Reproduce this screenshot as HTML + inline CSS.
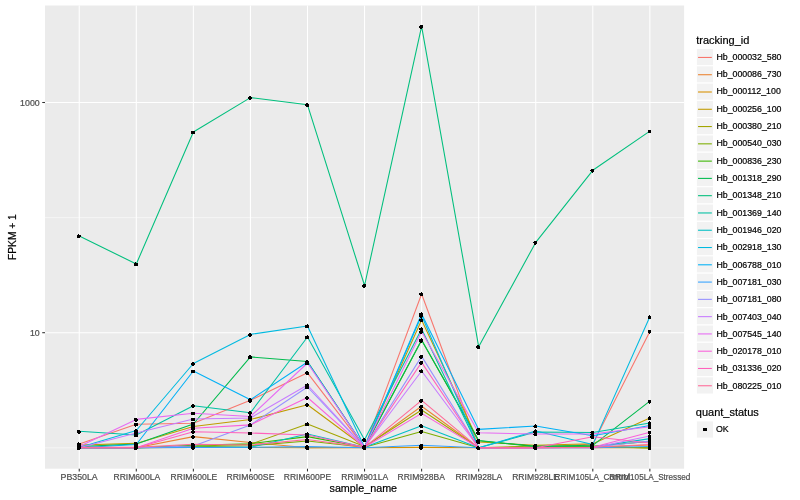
<!DOCTYPE html><html><head><meta charset="utf-8"><style>html,body{margin:0;padding:0;background:#fff;}svg{display:block;will-change:transform;}text{font-family:"Liberation Sans",Arial,Helvetica,sans-serif;stroke-width:0.2px;}</style></head><body>
<svg width="800" height="500" viewBox="0 0 800 500">
<rect x="0" y="0" width="800" height="500" fill="#FFFFFF"/>
<rect x="45.0" y="5.5" width="639.10" height="463.20" fill="#EBEBEB"/>
<line x1="45.0" x2="684.1" y1="447.8" y2="447.8" stroke="#FFFFFF" stroke-width="0.53"/>
<line x1="45.0" x2="684.1" y1="217.60000000000002" y2="217.60000000000002" stroke="#FFFFFF" stroke-width="0.53"/>
<line x1="45.0" x2="684.1" y1="332.70000000000005" y2="332.70000000000005" stroke="#FFFFFF" stroke-width="1.07"/>
<line x1="45.0" x2="684.1" y1="102.50000000000006" y2="102.50000000000006" stroke="#FFFFFF" stroke-width="1.07"/>
<line x1="79.24" x2="79.24" y1="5.5" y2="468.7" stroke="#FFFFFF" stroke-width="1.07"/>
<line x1="136.30" x2="136.30" y1="5.5" y2="468.7" stroke="#FFFFFF" stroke-width="1.07"/>
<line x1="193.36" x2="193.36" y1="5.5" y2="468.7" stroke="#FFFFFF" stroke-width="1.07"/>
<line x1="250.43" x2="250.43" y1="5.5" y2="468.7" stroke="#FFFFFF" stroke-width="1.07"/>
<line x1="307.49" x2="307.49" y1="5.5" y2="468.7" stroke="#FFFFFF" stroke-width="1.07"/>
<line x1="364.55" x2="364.55" y1="5.5" y2="468.7" stroke="#FFFFFF" stroke-width="1.07"/>
<line x1="421.61" x2="421.61" y1="5.5" y2="468.7" stroke="#FFFFFF" stroke-width="1.07"/>
<line x1="478.68" x2="478.68" y1="5.5" y2="468.7" stroke="#FFFFFF" stroke-width="1.07"/>
<line x1="535.74" x2="535.74" y1="5.5" y2="468.7" stroke="#FFFFFF" stroke-width="1.07"/>
<line x1="592.80" x2="592.80" y1="5.5" y2="468.7" stroke="#FFFFFF" stroke-width="1.07"/>
<line x1="649.86" x2="649.86" y1="5.5" y2="468.7" stroke="#FFFFFF" stroke-width="1.07"/>
<polyline points="79.24,444.00 136.30,424.20 193.36,423.20 250.43,400.30 307.49,372.80 364.55,447.40 421.61,294.00 478.68,447.80 535.74,447.50 592.80,444.00 649.86,331.40" fill="none" stroke="#F8766D" stroke-width="1.07" stroke-linejoin="round" stroke-linecap="butt"/>
<polyline points="79.24,447.80 136.30,447.80 193.36,436.60 250.43,442.50 307.49,447.80 364.55,447.40 421.61,406.30 478.68,447.80 535.74,447.80 592.80,447.30 649.86,445.00" fill="none" stroke="#EA8331" stroke-width="1.07" stroke-linejoin="round" stroke-linecap="butt"/>
<polyline points="79.24,447.80 136.30,447.80 193.36,447.50 250.43,447.50 307.49,447.80 364.55,447.80 421.61,447.40 478.68,447.80 535.74,447.80 592.80,447.80 649.86,447.80" fill="none" stroke="#D89000" stroke-width="1.07" stroke-linejoin="round" stroke-linecap="butt"/>
<polyline points="79.24,445.00 136.30,443.40 193.36,426.50 250.43,419.50 307.49,404.70 364.55,447.00 421.61,320.00 478.68,442.00 535.74,445.30 592.80,443.80 649.86,418.00" fill="none" stroke="#C09B00" stroke-width="1.07" stroke-linejoin="round" stroke-linecap="butt"/>
<polyline points="79.24,447.80 136.30,447.80 193.36,446.30 250.43,444.30 307.49,424.00 364.55,446.50 421.61,410.00 478.68,447.80 535.74,446.00 592.80,446.60 649.86,448.00" fill="none" stroke="#A3A500" stroke-width="1.07" stroke-linejoin="round" stroke-linecap="butt"/>
<polyline points="79.24,447.80 136.30,447.80 193.36,446.80 250.43,445.70 307.49,441.00 364.55,447.30 421.61,431.40 478.68,447.80 535.74,447.30 592.80,446.30 649.86,448.00" fill="none" stroke="#7CAE00" stroke-width="1.07" stroke-linejoin="round" stroke-linecap="butt"/>
<polyline points="79.24,447.80 136.30,447.80 193.36,445.30 250.43,443.70 307.49,436.60 364.55,447.30 421.61,340.30 478.68,440.70 535.74,446.60 592.80,446.30 649.86,441.50" fill="none" stroke="#39B600" stroke-width="1.07" stroke-linejoin="round" stroke-linecap="butt"/>
<polyline points="79.24,446.60 136.30,444.00 193.36,424.00 250.43,356.90 307.49,361.50 364.55,447.30 421.61,340.00 478.68,440.50 535.74,446.30 592.80,445.30 649.86,401.20" fill="none" stroke="#00BB4E" stroke-width="1.07" stroke-linejoin="round" stroke-linecap="butt"/>
<polyline points="79.24,236.00 136.30,264.00 193.36,132.00 250.43,97.60 307.49,104.80 364.55,285.50 421.61,26.30 478.68,346.70 535.74,242.40 592.80,170.30 649.86,131.10" fill="none" stroke="#00BF7D" stroke-width="1.07" stroke-linejoin="round" stroke-linecap="butt"/>
<polyline points="79.24,431.30 136.30,435.00 193.36,405.80 250.43,412.70 307.49,337.00 364.55,439.70 421.61,329.00 478.68,447.80 535.74,432.00 592.80,432.50 649.86,423.00" fill="none" stroke="#00C1A3" stroke-width="1.07" stroke-linejoin="round" stroke-linecap="butt"/>
<polyline points="79.24,447.80 136.30,447.80 193.36,447.30 250.43,447.30 307.49,434.00 364.55,447.30 421.61,425.80 478.68,447.80 535.74,447.30 592.80,447.30 649.86,438.60" fill="none" stroke="#00BFC4" stroke-width="1.07" stroke-linejoin="round" stroke-linecap="butt"/>
<polyline points="79.24,447.60 136.30,430.50 193.36,363.50 250.43,334.40 307.49,326.00 364.55,447.30 421.61,315.50 478.68,447.80 535.74,431.00 592.80,444.60 649.86,316.80" fill="none" stroke="#00BAE0" stroke-width="1.07" stroke-linejoin="round" stroke-linecap="butt"/>
<polyline points="79.24,447.80 136.30,444.50 193.36,371.00 250.43,399.80 307.49,362.00 364.55,447.30 421.61,314.00 478.68,429.40 535.74,426.00 592.80,435.70 649.86,425.50" fill="none" stroke="#00B0F6" stroke-width="1.07" stroke-linejoin="round" stroke-linecap="butt"/>
<polyline points="79.24,447.80 136.30,447.80 193.36,447.50 250.43,447.30 307.49,446.60 364.55,447.80 421.61,445.30 478.68,447.80 535.74,447.80 592.80,447.80 649.86,446.50" fill="none" stroke="#35A2FF" stroke-width="1.07" stroke-linejoin="round" stroke-linecap="butt"/>
<polyline points="79.24,447.80 136.30,447.80 193.36,446.00 250.43,425.00 307.49,387.00 364.55,447.30 421.61,356.40 478.68,447.80 535.74,447.80 592.80,447.30 649.86,441.00" fill="none" stroke="#9590FF" stroke-width="1.07" stroke-linejoin="round" stroke-linecap="butt"/>
<polyline points="79.24,447.80 136.30,433.00 193.36,419.00 250.43,418.00 307.49,385.00 364.55,447.30 421.61,371.00 478.68,447.80 535.74,447.80 592.80,447.80 649.86,436.00" fill="none" stroke="#C77CFF" stroke-width="1.07" stroke-linejoin="round" stroke-linecap="butt"/>
<polyline points="79.24,446.50 136.30,419.40 193.36,413.20 250.43,416.50 307.49,363.00 364.55,447.30 421.61,331.40 478.68,432.80 535.74,434.00 592.80,434.00 649.86,426.80" fill="none" stroke="#E76BF3" stroke-width="1.07" stroke-linejoin="round" stroke-linecap="butt"/>
<polyline points="79.24,447.80 136.30,447.80 193.36,428.30 250.43,424.90 307.49,397.50 364.55,447.30 421.61,413.40 478.68,447.80 535.74,447.80 592.80,447.30 649.86,432.30" fill="none" stroke="#FA62DB" stroke-width="1.07" stroke-linejoin="round" stroke-linecap="butt"/>
<polyline points="79.24,447.80 136.30,447.80 193.36,431.80 250.43,433.00 307.49,435.00 364.55,447.30 421.61,362.40 478.68,447.80 535.74,447.80 592.80,436.70 649.86,443.00" fill="none" stroke="#FF62BC" stroke-width="1.07" stroke-linejoin="round" stroke-linecap="butt"/>
<polyline points="79.24,447.20 136.30,447.20 193.36,444.30 250.43,445.00 307.49,439.50 364.55,447.30 421.61,400.40 478.68,447.80 535.74,447.80 592.80,447.30 649.86,444.50" fill="none" stroke="#FF6A98" stroke-width="1.07" stroke-linejoin="round" stroke-linecap="butt"/>
<path d="M77 235h1v1h-1zM77 236h1v1h-1zM77 237h1v1h-1zM77 430h1v1h-1zM77 431h1v1h-1zM77 432h1v1h-1zM77 443h1v1h-1zM77 444h1v1h-1zM77 445h1v1h-1zM77 446h1v1h-1zM77 447h1v1h-1zM77 448h1v1h-1zM77 449h1v1h-1zM78 234h1v1h-1zM78 235h1v1h-1zM78 236h1v1h-1zM78 237h1v1h-1zM78 430h1v1h-1zM78 431h1v1h-1zM78 432h1v1h-1zM78 433h1v1h-1zM78 442h1v1h-1zM78 443h1v1h-1zM78 444h1v1h-1zM78 445h1v1h-1zM78 446h1v1h-1zM78 447h1v1h-1zM78 448h1v1h-1zM78 449h1v1h-1zM79 235h1v1h-1zM79 236h1v1h-1zM79 237h1v1h-1zM79 430h1v1h-1zM79 431h1v1h-1zM79 432h1v1h-1zM79 433h1v1h-1zM79 443h1v1h-1zM79 444h1v1h-1zM79 445h1v1h-1zM79 446h1v1h-1zM79 447h1v1h-1zM79 448h1v1h-1zM79 449h1v1h-1zM80 235h1v1h-1zM80 236h1v1h-1zM80 431h1v1h-1zM80 432h1v1h-1zM80 443h1v1h-1zM80 444h1v1h-1zM80 445h1v1h-1zM80 446h1v1h-1zM80 447h1v1h-1zM80 448h1v1h-1zM134 263h1v1h-1zM134 264h1v1h-1zM134 265h1v1h-1zM134 418h1v1h-1zM134 419h1v1h-1zM134 420h1v1h-1zM134 423h1v1h-1zM134 424h1v1h-1zM134 425h1v1h-1zM134 430h1v1h-1zM134 431h1v1h-1zM134 432h1v1h-1zM134 433h1v1h-1zM134 434h1v1h-1zM134 435h1v1h-1zM134 436h1v1h-1zM134 442h1v1h-1zM134 443h1v1h-1zM134 444h1v1h-1zM134 445h1v1h-1zM134 446h1v1h-1zM134 447h1v1h-1zM134 448h1v1h-1zM134 449h1v1h-1zM135 262h1v1h-1zM135 263h1v1h-1zM135 264h1v1h-1zM135 265h1v1h-1zM135 418h1v1h-1zM135 419h1v1h-1zM135 420h1v1h-1zM135 421h1v1h-1zM135 423h1v1h-1zM135 424h1v1h-1zM135 425h1v1h-1zM135 426h1v1h-1zM135 429h1v1h-1zM135 430h1v1h-1zM135 431h1v1h-1zM135 432h1v1h-1zM135 433h1v1h-1zM135 434h1v1h-1zM135 435h1v1h-1zM135 436h1v1h-1zM135 442h1v1h-1zM135 443h1v1h-1zM135 444h1v1h-1zM135 445h1v1h-1zM135 446h1v1h-1zM135 447h1v1h-1zM135 448h1v1h-1zM135 449h1v1h-1zM136 263h1v1h-1zM136 264h1v1h-1zM136 265h1v1h-1zM136 418h1v1h-1zM136 419h1v1h-1zM136 420h1v1h-1zM136 421h1v1h-1zM136 423h1v1h-1zM136 424h1v1h-1zM136 425h1v1h-1zM136 429h1v1h-1zM136 430h1v1h-1zM136 431h1v1h-1zM136 432h1v1h-1zM136 433h1v1h-1zM136 434h1v1h-1zM136 435h1v1h-1zM136 436h1v1h-1zM136 442h1v1h-1zM136 443h1v1h-1zM136 444h1v1h-1zM136 445h1v1h-1zM136 446h1v1h-1zM136 447h1v1h-1zM136 448h1v1h-1zM136 449h1v1h-1zM137 263h1v1h-1zM137 264h1v1h-1zM137 265h1v1h-1zM137 419h1v1h-1zM137 420h1v1h-1zM137 423h1v1h-1zM137 424h1v1h-1zM137 425h1v1h-1zM137 430h1v1h-1zM137 431h1v1h-1zM137 432h1v1h-1zM137 433h1v1h-1zM137 434h1v1h-1zM137 435h1v1h-1zM137 436h1v1h-1zM137 443h1v1h-1zM137 444h1v1h-1zM137 445h1v1h-1zM137 446h1v1h-1zM137 447h1v1h-1zM137 448h1v1h-1zM191 131h1v1h-1zM191 132h1v1h-1zM191 133h1v1h-1zM191 363h1v1h-1zM191 364h1v1h-1zM191 370h1v1h-1zM191 371h1v1h-1zM191 372h1v1h-1zM191 405h1v1h-1zM191 406h1v1h-1zM191 412h1v1h-1zM191 413h1v1h-1zM191 414h1v1h-1zM191 418h1v1h-1zM191 419h1v1h-1zM191 420h1v1h-1zM191 422h1v1h-1zM191 423h1v1h-1zM191 424h1v1h-1zM191 425h1v1h-1zM191 426h1v1h-1zM191 427h1v1h-1zM191 428h1v1h-1zM191 429h1v1h-1zM191 431h1v1h-1zM191 432h1v1h-1zM191 436h1v1h-1zM191 437h1v1h-1zM191 443h1v1h-1zM191 444h1v1h-1zM191 445h1v1h-1zM191 446h1v1h-1zM191 447h1v1h-1zM191 448h1v1h-1zM192 131h1v1h-1zM192 132h1v1h-1zM192 133h1v1h-1zM192 362h1v1h-1zM192 363h1v1h-1zM192 364h1v1h-1zM192 365h1v1h-1zM192 370h1v1h-1zM192 371h1v1h-1zM192 372h1v1h-1zM192 404h1v1h-1zM192 405h1v1h-1zM192 406h1v1h-1zM192 407h1v1h-1zM192 412h1v1h-1zM192 413h1v1h-1zM192 414h1v1h-1zM192 418h1v1h-1zM192 419h1v1h-1zM192 420h1v1h-1zM192 422h1v1h-1zM192 423h1v1h-1zM192 424h1v1h-1zM192 425h1v1h-1zM192 426h1v1h-1zM192 427h1v1h-1zM192 428h1v1h-1zM192 429h1v1h-1zM192 430h1v1h-1zM192 431h1v1h-1zM192 432h1v1h-1zM192 433h1v1h-1zM192 435h1v1h-1zM192 436h1v1h-1zM192 437h1v1h-1zM192 438h1v1h-1zM192 443h1v1h-1zM192 444h1v1h-1zM192 445h1v1h-1zM192 446h1v1h-1zM192 447h1v1h-1zM192 448h1v1h-1zM192 449h1v1h-1zM193 131h1v1h-1zM193 132h1v1h-1zM193 133h1v1h-1zM193 362h1v1h-1zM193 363h1v1h-1zM193 364h1v1h-1zM193 365h1v1h-1zM193 370h1v1h-1zM193 371h1v1h-1zM193 372h1v1h-1zM193 404h1v1h-1zM193 405h1v1h-1zM193 406h1v1h-1zM193 407h1v1h-1zM193 412h1v1h-1zM193 413h1v1h-1zM193 414h1v1h-1zM193 418h1v1h-1zM193 419h1v1h-1zM193 420h1v1h-1zM193 422h1v1h-1zM193 423h1v1h-1zM193 424h1v1h-1zM193 425h1v1h-1zM193 426h1v1h-1zM193 427h1v1h-1zM193 428h1v1h-1zM193 429h1v1h-1zM193 430h1v1h-1zM193 431h1v1h-1zM193 432h1v1h-1zM193 433h1v1h-1zM193 435h1v1h-1zM193 436h1v1h-1zM193 437h1v1h-1zM193 438h1v1h-1zM193 443h1v1h-1zM193 444h1v1h-1zM193 445h1v1h-1zM193 446h1v1h-1zM193 447h1v1h-1zM193 448h1v1h-1zM193 449h1v1h-1zM194 131h1v1h-1zM194 132h1v1h-1zM194 133h1v1h-1zM194 363h1v1h-1zM194 364h1v1h-1zM194 370h1v1h-1zM194 371h1v1h-1zM194 372h1v1h-1zM194 405h1v1h-1zM194 406h1v1h-1zM194 412h1v1h-1zM194 413h1v1h-1zM194 414h1v1h-1zM194 418h1v1h-1zM194 419h1v1h-1zM194 420h1v1h-1zM194 422h1v1h-1zM194 423h1v1h-1zM194 424h1v1h-1zM194 425h1v1h-1zM194 426h1v1h-1zM194 427h1v1h-1zM194 428h1v1h-1zM194 429h1v1h-1zM194 431h1v1h-1zM194 432h1v1h-1zM194 436h1v1h-1zM194 437h1v1h-1zM194 444h1v1h-1zM194 445h1v1h-1zM194 446h1v1h-1zM194 447h1v1h-1zM194 448h1v1h-1zM248 97h1v1h-1zM248 98h1v1h-1zM248 334h1v1h-1zM248 335h1v1h-1zM248 356h1v1h-1zM248 357h1v1h-1zM248 358h1v1h-1zM248 399h1v1h-1zM248 400h1v1h-1zM248 401h1v1h-1zM248 412h1v1h-1zM248 413h1v1h-1zM248 416h1v1h-1zM248 417h1v1h-1zM248 418h1v1h-1zM248 419h1v1h-1zM248 420h1v1h-1zM248 424h1v1h-1zM248 425h1v1h-1zM248 426h1v1h-1zM248 432h1v1h-1zM248 433h1v1h-1zM248 434h1v1h-1zM248 442h1v1h-1zM248 443h1v1h-1zM248 444h1v1h-1zM248 445h1v1h-1zM248 446h1v1h-1zM248 447h1v1h-1zM248 448h1v1h-1zM249 96h1v1h-1zM249 97h1v1h-1zM249 98h1v1h-1zM249 99h1v1h-1zM249 333h1v1h-1zM249 334h1v1h-1zM249 335h1v1h-1zM249 336h1v1h-1zM249 355h1v1h-1zM249 356h1v1h-1zM249 357h1v1h-1zM249 358h1v1h-1zM249 398h1v1h-1zM249 399h1v1h-1zM249 400h1v1h-1zM249 401h1v1h-1zM249 402h1v1h-1zM249 411h1v1h-1zM249 412h1v1h-1zM249 413h1v1h-1zM249 414h1v1h-1zM249 415h1v1h-1zM249 416h1v1h-1zM249 417h1v1h-1zM249 418h1v1h-1zM249 419h1v1h-1zM249 420h1v1h-1zM249 421h1v1h-1zM249 423h1v1h-1zM249 424h1v1h-1zM249 425h1v1h-1zM249 426h1v1h-1zM249 432h1v1h-1zM249 433h1v1h-1zM249 434h1v1h-1zM249 441h1v1h-1zM249 442h1v1h-1zM249 443h1v1h-1zM249 444h1v1h-1zM249 445h1v1h-1zM249 446h1v1h-1zM249 447h1v1h-1zM249 448h1v1h-1zM249 449h1v1h-1zM250 96h1v1h-1zM250 97h1v1h-1zM250 98h1v1h-1zM250 99h1v1h-1zM250 333h1v1h-1zM250 334h1v1h-1zM250 335h1v1h-1zM250 336h1v1h-1zM250 355h1v1h-1zM250 356h1v1h-1zM250 357h1v1h-1zM250 358h1v1h-1zM250 398h1v1h-1zM250 399h1v1h-1zM250 400h1v1h-1zM250 401h1v1h-1zM250 402h1v1h-1zM250 411h1v1h-1zM250 412h1v1h-1zM250 413h1v1h-1zM250 414h1v1h-1zM250 415h1v1h-1zM250 416h1v1h-1zM250 417h1v1h-1zM250 418h1v1h-1zM250 419h1v1h-1zM250 420h1v1h-1zM250 421h1v1h-1zM250 423h1v1h-1zM250 424h1v1h-1zM250 425h1v1h-1zM250 426h1v1h-1zM250 432h1v1h-1zM250 433h1v1h-1zM250 434h1v1h-1zM250 441h1v1h-1zM250 442h1v1h-1zM250 443h1v1h-1zM250 444h1v1h-1zM250 445h1v1h-1zM250 446h1v1h-1zM250 447h1v1h-1zM250 448h1v1h-1zM250 449h1v1h-1zM251 97h1v1h-1zM251 98h1v1h-1zM251 334h1v1h-1zM251 335h1v1h-1zM251 356h1v1h-1zM251 357h1v1h-1zM251 358h1v1h-1zM251 399h1v1h-1zM251 400h1v1h-1zM251 401h1v1h-1zM251 412h1v1h-1zM251 413h1v1h-1zM251 416h1v1h-1zM251 417h1v1h-1zM251 418h1v1h-1zM251 419h1v1h-1zM251 420h1v1h-1zM251 424h1v1h-1zM251 425h1v1h-1zM251 426h1v1h-1zM251 432h1v1h-1zM251 433h1v1h-1zM251 434h1v1h-1zM251 442h1v1h-1zM251 443h1v1h-1zM251 444h1v1h-1zM251 445h1v1h-1zM251 446h1v1h-1zM251 447h1v1h-1zM251 448h1v1h-1zM305 104h1v1h-1zM305 105h1v1h-1zM305 325h1v1h-1zM305 326h1v1h-1zM305 327h1v1h-1zM305 336h1v1h-1zM305 337h1v1h-1zM305 338h1v1h-1zM305 361h1v1h-1zM305 362h1v1h-1zM305 363h1v1h-1zM305 364h1v1h-1zM305 372h1v1h-1zM305 373h1v1h-1zM305 384h1v1h-1zM305 385h1v1h-1zM305 386h1v1h-1zM305 387h1v1h-1zM305 388h1v1h-1zM305 397h1v1h-1zM305 398h1v1h-1zM305 404h1v1h-1zM305 405h1v1h-1zM305 423h1v1h-1zM305 424h1v1h-1zM305 425h1v1h-1zM305 433h1v1h-1zM305 434h1v1h-1zM305 435h1v1h-1zM305 436h1v1h-1zM305 437h1v1h-1zM305 439h1v1h-1zM305 440h1v1h-1zM305 441h1v1h-1zM305 442h1v1h-1zM305 446h1v1h-1zM305 447h1v1h-1zM305 448h1v1h-1zM306 103h1v1h-1zM306 104h1v1h-1zM306 105h1v1h-1zM306 106h1v1h-1zM306 325h1v1h-1zM306 326h1v1h-1zM306 327h1v1h-1zM306 336h1v1h-1zM306 337h1v1h-1zM306 338h1v1h-1zM306 360h1v1h-1zM306 361h1v1h-1zM306 362h1v1h-1zM306 363h1v1h-1zM306 364h1v1h-1zM306 371h1v1h-1zM306 372h1v1h-1zM306 373h1v1h-1zM306 374h1v1h-1zM306 384h1v1h-1zM306 385h1v1h-1zM306 386h1v1h-1zM306 387h1v1h-1zM306 388h1v1h-1zM306 396h1v1h-1zM306 397h1v1h-1zM306 398h1v1h-1zM306 399h1v1h-1zM306 403h1v1h-1zM306 404h1v1h-1zM306 405h1v1h-1zM306 406h1v1h-1zM306 423h1v1h-1zM306 424h1v1h-1zM306 425h1v1h-1zM306 433h1v1h-1zM306 434h1v1h-1zM306 435h1v1h-1zM306 436h1v1h-1zM306 437h1v1h-1zM306 438h1v1h-1zM306 439h1v1h-1zM306 440h1v1h-1zM306 441h1v1h-1zM306 442h1v1h-1zM306 445h1v1h-1zM306 446h1v1h-1zM306 447h1v1h-1zM306 448h1v1h-1zM306 449h1v1h-1zM307 103h1v1h-1zM307 104h1v1h-1zM307 105h1v1h-1zM307 106h1v1h-1zM307 324h1v1h-1zM307 325h1v1h-1zM307 326h1v1h-1zM307 327h1v1h-1zM307 335h1v1h-1zM307 336h1v1h-1zM307 337h1v1h-1zM307 338h1v1h-1zM307 360h1v1h-1zM307 361h1v1h-1zM307 362h1v1h-1zM307 363h1v1h-1zM307 364h1v1h-1zM307 371h1v1h-1zM307 372h1v1h-1zM307 373h1v1h-1zM307 374h1v1h-1zM307 383h1v1h-1zM307 384h1v1h-1zM307 385h1v1h-1zM307 386h1v1h-1zM307 387h1v1h-1zM307 388h1v1h-1zM307 396h1v1h-1zM307 397h1v1h-1zM307 398h1v1h-1zM307 399h1v1h-1zM307 403h1v1h-1zM307 404h1v1h-1zM307 405h1v1h-1zM307 406h1v1h-1zM307 422h1v1h-1zM307 423h1v1h-1zM307 424h1v1h-1zM307 425h1v1h-1zM307 432h1v1h-1zM307 433h1v1h-1zM307 434h1v1h-1zM307 435h1v1h-1zM307 436h1v1h-1zM307 437h1v1h-1zM307 438h1v1h-1zM307 439h1v1h-1zM307 440h1v1h-1zM307 441h1v1h-1zM307 442h1v1h-1zM307 445h1v1h-1zM307 446h1v1h-1zM307 447h1v1h-1zM307 448h1v1h-1zM307 449h1v1h-1zM308 104h1v1h-1zM308 105h1v1h-1zM308 106h1v1h-1zM308 325h1v1h-1zM308 326h1v1h-1zM308 327h1v1h-1zM308 336h1v1h-1zM308 337h1v1h-1zM308 338h1v1h-1zM308 361h1v1h-1zM308 362h1v1h-1zM308 363h1v1h-1zM308 364h1v1h-1zM308 372h1v1h-1zM308 373h1v1h-1zM308 374h1v1h-1zM308 384h1v1h-1zM308 385h1v1h-1zM308 386h1v1h-1zM308 387h1v1h-1zM308 388h1v1h-1zM308 397h1v1h-1zM308 398h1v1h-1zM308 404h1v1h-1zM308 405h1v1h-1zM308 423h1v1h-1zM308 424h1v1h-1zM308 425h1v1h-1zM308 433h1v1h-1zM308 434h1v1h-1zM308 435h1v1h-1zM308 436h1v1h-1zM308 437h1v1h-1zM308 439h1v1h-1zM308 440h1v1h-1zM308 441h1v1h-1zM308 442h1v1h-1zM308 446h1v1h-1zM308 447h1v1h-1zM308 448h1v1h-1zM308 449h1v1h-1zM362 285h1v1h-1zM362 286h1v1h-1zM362 439h1v1h-1zM362 440h1v1h-1zM362 446h1v1h-1zM362 447h1v1h-1zM362 448h1v1h-1zM363 284h1v1h-1zM363 285h1v1h-1zM363 286h1v1h-1zM363 287h1v1h-1zM363 438h1v1h-1zM363 439h1v1h-1zM363 440h1v1h-1zM363 441h1v1h-1zM363 445h1v1h-1zM363 446h1v1h-1zM363 447h1v1h-1zM363 448h1v1h-1zM363 449h1v1h-1zM364 284h1v1h-1zM364 285h1v1h-1zM364 286h1v1h-1zM364 287h1v1h-1zM364 438h1v1h-1zM364 439h1v1h-1zM364 440h1v1h-1zM364 441h1v1h-1zM364 445h1v1h-1zM364 446h1v1h-1zM364 447h1v1h-1zM364 448h1v1h-1zM364 449h1v1h-1zM365 284h1v1h-1zM365 285h1v1h-1zM365 286h1v1h-1zM365 439h1v1h-1zM365 440h1v1h-1zM365 441h1v1h-1zM365 445h1v1h-1zM365 446h1v1h-1zM365 447h1v1h-1zM365 448h1v1h-1zM365 449h1v1h-1zM419 26h1v1h-1zM419 27h1v1h-1zM419 293h1v1h-1zM419 294h1v1h-1zM419 313h1v1h-1zM419 314h1v1h-1zM419 315h1v1h-1zM419 316h1v1h-1zM419 319h1v1h-1zM419 320h1v1h-1zM419 328h1v1h-1zM419 329h1v1h-1zM419 331h1v1h-1zM419 332h1v1h-1zM419 339h1v1h-1zM419 340h1v1h-1zM419 341h1v1h-1zM419 356h1v1h-1zM419 357h1v1h-1zM419 362h1v1h-1zM419 363h1v1h-1zM419 370h1v1h-1zM419 371h1v1h-1zM419 400h1v1h-1zM419 401h1v1h-1zM419 406h1v1h-1zM419 407h1v1h-1zM419 409h1v1h-1zM419 410h1v1h-1zM419 413h1v1h-1zM419 414h1v1h-1zM419 425h1v1h-1zM419 426h1v1h-1zM419 431h1v1h-1zM419 432h1v1h-1zM419 445h1v1h-1zM419 446h1v1h-1zM419 447h1v1h-1zM419 448h1v1h-1zM420 25h1v1h-1zM420 26h1v1h-1zM420 27h1v1h-1zM420 28h1v1h-1zM420 293h1v1h-1zM420 294h1v1h-1zM420 295h1v1h-1zM420 313h1v1h-1zM420 314h1v1h-1zM420 315h1v1h-1zM420 316h1v1h-1zM420 317h1v1h-1zM420 319h1v1h-1zM420 320h1v1h-1zM420 321h1v1h-1zM420 328h1v1h-1zM420 329h1v1h-1zM420 330h1v1h-1zM420 331h1v1h-1zM420 332h1v1h-1zM420 333h1v1h-1zM420 339h1v1h-1zM420 340h1v1h-1zM420 341h1v1h-1zM420 342h1v1h-1zM420 355h1v1h-1zM420 356h1v1h-1zM420 357h1v1h-1zM420 358h1v1h-1zM420 361h1v1h-1zM420 362h1v1h-1zM420 363h1v1h-1zM420 364h1v1h-1zM420 370h1v1h-1zM420 371h1v1h-1zM420 372h1v1h-1zM420 399h1v1h-1zM420 400h1v1h-1zM420 401h1v1h-1zM420 402h1v1h-1zM420 405h1v1h-1zM420 406h1v1h-1zM420 407h1v1h-1zM420 408h1v1h-1zM420 409h1v1h-1zM420 410h1v1h-1zM420 411h1v1h-1zM420 412h1v1h-1zM420 413h1v1h-1zM420 414h1v1h-1zM420 415h1v1h-1zM420 424h1v1h-1zM420 425h1v1h-1zM420 426h1v1h-1zM420 427h1v1h-1zM420 430h1v1h-1zM420 431h1v1h-1zM420 432h1v1h-1zM420 433h1v1h-1zM420 444h1v1h-1zM420 445h1v1h-1zM420 446h1v1h-1zM420 447h1v1h-1zM420 448h1v1h-1zM420 449h1v1h-1zM421 25h1v1h-1zM421 26h1v1h-1zM421 27h1v1h-1zM421 28h1v1h-1zM421 292h1v1h-1zM421 293h1v1h-1zM421 294h1v1h-1zM421 295h1v1h-1zM421 312h1v1h-1zM421 313h1v1h-1zM421 314h1v1h-1zM421 315h1v1h-1zM421 316h1v1h-1zM421 317h1v1h-1zM421 318h1v1h-1zM421 319h1v1h-1zM421 320h1v1h-1zM421 321h1v1h-1zM421 327h1v1h-1zM421 328h1v1h-1zM421 329h1v1h-1zM421 330h1v1h-1zM421 331h1v1h-1zM421 332h1v1h-1zM421 333h1v1h-1zM421 338h1v1h-1zM421 339h1v1h-1zM421 340h1v1h-1zM421 341h1v1h-1zM421 342h1v1h-1zM421 355h1v1h-1zM421 356h1v1h-1zM421 357h1v1h-1zM421 358h1v1h-1zM421 361h1v1h-1zM421 362h1v1h-1zM421 363h1v1h-1zM421 364h1v1h-1zM421 369h1v1h-1zM421 370h1v1h-1zM421 371h1v1h-1zM421 372h1v1h-1zM421 399h1v1h-1zM421 400h1v1h-1zM421 401h1v1h-1zM421 402h1v1h-1zM421 405h1v1h-1zM421 406h1v1h-1zM421 407h1v1h-1zM421 408h1v1h-1zM421 409h1v1h-1zM421 410h1v1h-1zM421 411h1v1h-1zM421 412h1v1h-1zM421 413h1v1h-1zM421 414h1v1h-1zM421 415h1v1h-1zM421 424h1v1h-1zM421 425h1v1h-1zM421 426h1v1h-1zM421 427h1v1h-1zM421 430h1v1h-1zM421 431h1v1h-1zM421 432h1v1h-1zM421 433h1v1h-1zM421 444h1v1h-1zM421 445h1v1h-1zM421 446h1v1h-1zM421 447h1v1h-1zM421 448h1v1h-1zM421 449h1v1h-1zM422 25h1v1h-1zM422 26h1v1h-1zM422 27h1v1h-1zM422 293h1v1h-1zM422 294h1v1h-1zM422 295h1v1h-1zM422 313h1v1h-1zM422 314h1v1h-1zM422 315h1v1h-1zM422 316h1v1h-1zM422 319h1v1h-1zM422 320h1v1h-1zM422 321h1v1h-1zM422 328h1v1h-1zM422 329h1v1h-1zM422 330h1v1h-1zM422 331h1v1h-1zM422 332h1v1h-1zM422 339h1v1h-1zM422 340h1v1h-1zM422 341h1v1h-1zM422 355h1v1h-1zM422 356h1v1h-1zM422 357h1v1h-1zM422 361h1v1h-1zM422 362h1v1h-1zM422 363h1v1h-1zM422 370h1v1h-1zM422 371h1v1h-1zM422 372h1v1h-1zM422 399h1v1h-1zM422 400h1v1h-1zM422 401h1v1h-1zM422 405h1v1h-1zM422 406h1v1h-1zM422 407h1v1h-1zM422 409h1v1h-1zM422 410h1v1h-1zM422 411h1v1h-1zM422 412h1v1h-1zM422 413h1v1h-1zM422 414h1v1h-1zM422 425h1v1h-1zM422 426h1v1h-1zM422 427h1v1h-1zM422 430h1v1h-1zM422 431h1v1h-1zM422 432h1v1h-1zM422 444h1v1h-1zM422 445h1v1h-1zM422 446h1v1h-1zM422 447h1v1h-1zM422 448h1v1h-1zM476 346h1v1h-1zM476 347h1v1h-1zM476 429h1v1h-1zM476 430h1v1h-1zM476 432h1v1h-1zM476 433h1v1h-1zM476 440h1v1h-1zM476 441h1v1h-1zM476 442h1v1h-1zM476 447h1v1h-1zM476 448h1v1h-1zM477 345h1v1h-1zM477 346h1v1h-1zM477 347h1v1h-1zM477 348h1v1h-1zM477 428h1v1h-1zM477 429h1v1h-1zM477 430h1v1h-1zM477 431h1v1h-1zM477 432h1v1h-1zM477 433h1v1h-1zM477 434h1v1h-1zM477 439h1v1h-1zM477 440h1v1h-1zM477 441h1v1h-1zM477 442h1v1h-1zM477 443h1v1h-1zM477 446h1v1h-1zM477 447h1v1h-1zM477 448h1v1h-1zM477 449h1v1h-1zM478 345h1v1h-1zM478 346h1v1h-1zM478 347h1v1h-1zM478 348h1v1h-1zM478 428h1v1h-1zM478 429h1v1h-1zM478 430h1v1h-1zM478 431h1v1h-1zM478 432h1v1h-1zM478 433h1v1h-1zM478 434h1v1h-1zM478 439h1v1h-1zM478 440h1v1h-1zM478 441h1v1h-1zM478 442h1v1h-1zM478 443h1v1h-1zM478 446h1v1h-1zM478 447h1v1h-1zM478 448h1v1h-1zM478 449h1v1h-1zM479 346h1v1h-1zM479 347h1v1h-1zM479 348h1v1h-1zM479 428h1v1h-1zM479 429h1v1h-1zM479 430h1v1h-1zM479 432h1v1h-1zM479 433h1v1h-1zM479 434h1v1h-1zM479 439h1v1h-1zM479 440h1v1h-1zM479 441h1v1h-1zM479 442h1v1h-1zM479 443h1v1h-1zM479 447h1v1h-1zM479 448h1v1h-1zM479 449h1v1h-1zM533 242h1v1h-1zM533 426h1v1h-1zM533 431h1v1h-1zM533 432h1v1h-1zM533 434h1v1h-1zM533 445h1v1h-1zM533 446h1v1h-1zM533 447h1v1h-1zM533 448h1v1h-1zM534 241h1v1h-1zM534 242h1v1h-1zM534 243h1v1h-1zM534 244h1v1h-1zM534 425h1v1h-1zM534 426h1v1h-1zM534 427h1v1h-1zM534 430h1v1h-1zM534 431h1v1h-1zM534 432h1v1h-1zM534 433h1v1h-1zM534 434h1v1h-1zM534 435h1v1h-1zM534 444h1v1h-1zM534 445h1v1h-1zM534 446h1v1h-1zM534 447h1v1h-1zM534 448h1v1h-1zM534 449h1v1h-1zM535 241h1v1h-1zM535 242h1v1h-1zM535 243h1v1h-1zM535 244h1v1h-1zM535 424h1v1h-1zM535 425h1v1h-1zM535 426h1v1h-1zM535 427h1v1h-1zM535 429h1v1h-1zM535 430h1v1h-1zM535 431h1v1h-1zM535 432h1v1h-1zM535 433h1v1h-1zM535 434h1v1h-1zM535 435h1v1h-1zM535 444h1v1h-1zM535 445h1v1h-1zM535 446h1v1h-1zM535 447h1v1h-1zM535 448h1v1h-1zM535 449h1v1h-1zM536 241h1v1h-1zM536 242h1v1h-1zM536 243h1v1h-1zM536 425h1v1h-1zM536 426h1v1h-1zM536 427h1v1h-1zM536 430h1v1h-1zM536 431h1v1h-1zM536 432h1v1h-1zM536 433h1v1h-1zM536 434h1v1h-1zM536 435h1v1h-1zM536 444h1v1h-1zM536 445h1v1h-1zM536 446h1v1h-1zM536 447h1v1h-1zM536 448h1v1h-1zM536 449h1v1h-1zM590 170h1v1h-1zM590 432h1v1h-1zM590 434h1v1h-1zM590 436h1v1h-1zM590 437h1v1h-1zM590 444h1v1h-1zM590 445h1v1h-1zM590 446h1v1h-1zM590 447h1v1h-1zM590 448h1v1h-1zM591 169h1v1h-1zM591 170h1v1h-1zM591 171h1v1h-1zM591 431h1v1h-1zM591 432h1v1h-1zM591 433h1v1h-1zM591 434h1v1h-1zM591 435h1v1h-1zM591 436h1v1h-1zM591 437h1v1h-1zM591 438h1v1h-1zM591 442h1v1h-1zM591 443h1v1h-1zM591 444h1v1h-1zM591 445h1v1h-1zM591 446h1v1h-1zM591 447h1v1h-1zM591 448h1v1h-1zM591 449h1v1h-1zM592 169h1v1h-1zM592 170h1v1h-1zM592 171h1v1h-1zM592 172h1v1h-1zM592 431h1v1h-1zM592 432h1v1h-1zM592 433h1v1h-1zM592 434h1v1h-1zM592 435h1v1h-1zM592 436h1v1h-1zM592 437h1v1h-1zM592 438h1v1h-1zM592 442h1v1h-1zM592 443h1v1h-1zM592 444h1v1h-1zM592 445h1v1h-1zM592 446h1v1h-1zM592 447h1v1h-1zM592 448h1v1h-1zM592 449h1v1h-1zM593 169h1v1h-1zM593 170h1v1h-1zM593 171h1v1h-1zM593 431h1v1h-1zM593 432h1v1h-1zM593 433h1v1h-1zM593 434h1v1h-1zM593 435h1v1h-1zM593 436h1v1h-1zM593 437h1v1h-1zM593 438h1v1h-1zM593 443h1v1h-1zM593 444h1v1h-1zM593 445h1v1h-1zM593 446h1v1h-1zM593 447h1v1h-1zM593 448h1v1h-1zM593 449h1v1h-1zM648 130h1v1h-1zM648 131h1v1h-1zM648 132h1v1h-1zM648 316h1v1h-1zM648 317h1v1h-1zM648 318h1v1h-1zM648 330h1v1h-1zM648 331h1v1h-1zM648 332h1v1h-1zM648 400h1v1h-1zM648 401h1v1h-1zM648 402h1v1h-1zM648 417h1v1h-1zM648 418h1v1h-1zM648 419h1v1h-1zM648 422h1v1h-1zM648 423h1v1h-1zM648 424h1v1h-1zM648 425h1v1h-1zM648 426h1v1h-1zM648 427h1v1h-1zM648 428h1v1h-1zM648 431h1v1h-1zM648 432h1v1h-1zM648 433h1v1h-1zM648 435h1v1h-1zM648 436h1v1h-1zM648 437h1v1h-1zM648 438h1v1h-1zM648 439h1v1h-1zM648 440h1v1h-1zM648 441h1v1h-1zM648 442h1v1h-1zM648 443h1v1h-1zM648 444h1v1h-1zM648 445h1v1h-1zM648 446h1v1h-1zM648 447h1v1h-1zM648 448h1v1h-1zM648 449h1v1h-1zM649 130h1v1h-1zM649 131h1v1h-1zM649 132h1v1h-1zM649 315h1v1h-1zM649 316h1v1h-1zM649 317h1v1h-1zM649 318h1v1h-1zM649 330h1v1h-1zM649 331h1v1h-1zM649 332h1v1h-1zM649 333h1v1h-1zM649 400h1v1h-1zM649 401h1v1h-1zM649 402h1v1h-1zM649 403h1v1h-1zM649 416h1v1h-1zM649 417h1v1h-1zM649 418h1v1h-1zM649 419h1v1h-1zM649 421h1v1h-1zM649 422h1v1h-1zM649 423h1v1h-1zM649 424h1v1h-1zM649 425h1v1h-1zM649 426h1v1h-1zM649 427h1v1h-1zM649 428h1v1h-1zM649 431h1v1h-1zM649 432h1v1h-1zM649 433h1v1h-1zM649 434h1v1h-1zM649 435h1v1h-1zM649 436h1v1h-1zM649 437h1v1h-1zM649 438h1v1h-1zM649 439h1v1h-1zM649 440h1v1h-1zM649 441h1v1h-1zM649 442h1v1h-1zM649 443h1v1h-1zM649 444h1v1h-1zM649 445h1v1h-1zM649 446h1v1h-1zM649 447h1v1h-1zM649 448h1v1h-1zM649 449h1v1h-1zM650 130h1v1h-1zM650 131h1v1h-1zM650 132h1v1h-1zM650 316h1v1h-1zM650 317h1v1h-1zM650 318h1v1h-1zM650 330h1v1h-1zM650 331h1v1h-1zM650 332h1v1h-1zM650 400h1v1h-1zM650 401h1v1h-1zM650 402h1v1h-1zM650 417h1v1h-1zM650 418h1v1h-1zM650 419h1v1h-1zM650 422h1v1h-1zM650 423h1v1h-1zM650 424h1v1h-1zM650 425h1v1h-1zM650 426h1v1h-1zM650 427h1v1h-1zM650 428h1v1h-1zM650 431h1v1h-1zM650 432h1v1h-1zM650 433h1v1h-1zM650 435h1v1h-1zM650 436h1v1h-1zM650 437h1v1h-1zM650 438h1v1h-1zM650 439h1v1h-1zM650 440h1v1h-1zM650 441h1v1h-1zM650 442h1v1h-1zM650 443h1v1h-1zM650 444h1v1h-1zM650 445h1v1h-1zM650 446h1v1h-1zM650 447h1v1h-1zM650 448h1v1h-1zM650 449h1v1h-1z" fill="#000" shape-rendering="crispEdges"/>
<line x1="42.25" x2="45.0" y1="332.70000000000005" y2="332.70000000000005" stroke="#333333" stroke-width="1.07"/>
<line x1="42.25" x2="45.0" y1="102.50000000000006" y2="102.50000000000006" stroke="#333333" stroke-width="1.07"/>
<line x1="79.24" x2="79.24" y1="468.7" y2="471.45" stroke="#333333" stroke-width="1.07"/>
<line x1="136.30" x2="136.30" y1="468.7" y2="471.45" stroke="#333333" stroke-width="1.07"/>
<line x1="193.36" x2="193.36" y1="468.7" y2="471.45" stroke="#333333" stroke-width="1.07"/>
<line x1="250.43" x2="250.43" y1="468.7" y2="471.45" stroke="#333333" stroke-width="1.07"/>
<line x1="307.49" x2="307.49" y1="468.7" y2="471.45" stroke="#333333" stroke-width="1.07"/>
<line x1="364.55" x2="364.55" y1="468.7" y2="471.45" stroke="#333333" stroke-width="1.07"/>
<line x1="421.61" x2="421.61" y1="468.7" y2="471.45" stroke="#333333" stroke-width="1.07"/>
<line x1="478.68" x2="478.68" y1="468.7" y2="471.45" stroke="#333333" stroke-width="1.07"/>
<line x1="535.74" x2="535.74" y1="468.7" y2="471.45" stroke="#333333" stroke-width="1.07"/>
<line x1="592.80" x2="592.80" y1="468.7" y2="471.45" stroke="#333333" stroke-width="1.07"/>
<line x1="649.86" x2="649.86" y1="468.7" y2="471.45" stroke="#333333" stroke-width="1.07"/>
<text x="39.7" y="335.90000000000003" font-size="8.8" fill="#4D4D4D" stroke="#4D4D4D" text-anchor="end">10</text>
<text x="39.7" y="105.70000000000006" font-size="8.8" fill="#4D4D4D" stroke="#4D4D4D" text-anchor="end">1000</text>
<text x="79.15" y="480" font-size="8.8" fill="#4D4D4D" stroke="#4D4D4D" text-anchor="middle">PB350LA</text>
<text x="113.45" y="480" font-size="8.8" fill="#4D4D4D" stroke="#4D4D4D" textLength="46.7" lengthAdjust="spacingAndGlyphs">RRIM600LA</text>
<text x="170.60" y="480" font-size="8.8" fill="#4D4D4D" stroke="#4D4D4D" textLength="46.5" lengthAdjust="spacingAndGlyphs">RRIM600LE</text>
<text x="226.40" y="480" font-size="8.8" fill="#4D4D4D" stroke="#4D4D4D" textLength="48.0" lengthAdjust="spacingAndGlyphs">RRIM600SE</text>
<text x="283.80" y="480" font-size="8.8" fill="#4D4D4D" stroke="#4D4D4D" textLength="47.4" lengthAdjust="spacingAndGlyphs">RRIM600PE</text>
<text x="341.20" y="480" font-size="8.8" fill="#4D4D4D" stroke="#4D4D4D" textLength="47.0" lengthAdjust="spacingAndGlyphs">RRIM901LA</text>
<text x="397.50" y="480" font-size="8.8" fill="#4D4D4D" stroke="#4D4D4D" textLength="47.4" lengthAdjust="spacingAndGlyphs">RRIM928BA</text>
<text x="455.40" y="480" font-size="8.8" fill="#4D4D4D" stroke="#4D4D4D" textLength="46.9" lengthAdjust="spacingAndGlyphs">RRIM928LA</text>
<text x="512.15" y="480" font-size="8.8" fill="#4D4D4D" stroke="#4D4D4D" textLength="46.9" lengthAdjust="spacingAndGlyphs">RRIM928LE</text>
<text x="554.50" y="480" font-size="8.8" fill="#4D4D4D" stroke="#4D4D4D" textLength="75.5" lengthAdjust="spacingAndGlyphs">RRIM105LA_Control</text>
<text x="609.30" y="480" font-size="8.8" fill="#4D4D4D" stroke="#4D4D4D" textLength="81.0" lengthAdjust="spacingAndGlyphs">RRIM105LA_Stressed</text>
<text x="329.50" y="491.7" font-size="11" fill="#000" stroke="#000" textLength="67.6" lengthAdjust="spacingAndGlyphs">sample_name</text>
<text transform="translate(16,237.1) rotate(-90)" x="-22.90" y="0" font-size="11" fill="#000" stroke="#000" textLength="45.8" lengthAdjust="spacingAndGlyphs">FPKM + 1</text>
<text x="696.2" y="44" font-size="11" fill="#000" stroke="#000">tracking_id</text>
<rect x="696.3" y="48.50" width="17.28" height="17.28" fill="#F2F2F2" stroke="#FFFFFF" stroke-width="1.07"/>
<line x1="698.03" x2="711.85" y1="57.44" y2="57.44" stroke="#F8766D" stroke-width="1.07"/>
<text x="716.4" y="59.79" font-size="8.8" fill="#000" stroke="#000">Hb_000032_580</text>
<rect x="696.3" y="65.78" width="17.28" height="17.28" fill="#F2F2F2" stroke="#FFFFFF" stroke-width="1.07"/>
<line x1="698.03" x2="711.85" y1="74.72" y2="74.72" stroke="#EA8331" stroke-width="1.07"/>
<text x="716.4" y="77.11" font-size="8.8" fill="#000" stroke="#000">Hb_000086_730</text>
<rect x="696.3" y="83.06" width="17.28" height="17.28" fill="#F2F2F2" stroke="#FFFFFF" stroke-width="1.07"/>
<line x1="698.03" x2="711.85" y1="92.00" y2="92.00" stroke="#D89000" stroke-width="1.07"/>
<text x="716.4" y="94.42" font-size="8.8" fill="#000" stroke="#000">Hb_000112_100</text>
<rect x="696.3" y="100.34" width="17.28" height="17.28" fill="#F2F2F2" stroke="#FFFFFF" stroke-width="1.07"/>
<line x1="698.03" x2="711.85" y1="109.28" y2="109.28" stroke="#C09B00" stroke-width="1.07"/>
<text x="716.4" y="111.74" font-size="8.8" fill="#000" stroke="#000">Hb_000256_100</text>
<rect x="696.3" y="117.62" width="17.28" height="17.28" fill="#F2F2F2" stroke="#FFFFFF" stroke-width="1.07"/>
<line x1="698.03" x2="711.85" y1="126.56" y2="126.56" stroke="#A3A500" stroke-width="1.07"/>
<text x="716.4" y="129.05" font-size="8.8" fill="#000" stroke="#000">Hb_000380_210</text>
<rect x="696.3" y="134.90" width="17.28" height="17.28" fill="#F2F2F2" stroke="#FFFFFF" stroke-width="1.07"/>
<line x1="698.03" x2="711.85" y1="143.84" y2="143.84" stroke="#7CAE00" stroke-width="1.07"/>
<text x="716.4" y="146.37" font-size="8.8" fill="#000" stroke="#000">Hb_000540_030</text>
<rect x="696.3" y="152.18" width="17.28" height="17.28" fill="#F2F2F2" stroke="#FFFFFF" stroke-width="1.07"/>
<line x1="698.03" x2="711.85" y1="161.12" y2="161.12" stroke="#39B600" stroke-width="1.07"/>
<text x="716.4" y="163.68" font-size="8.8" fill="#000" stroke="#000">Hb_000836_230</text>
<rect x="696.3" y="169.46" width="17.28" height="17.28" fill="#F2F2F2" stroke="#FFFFFF" stroke-width="1.07"/>
<line x1="698.03" x2="711.85" y1="178.40" y2="178.40" stroke="#00BB4E" stroke-width="1.07"/>
<text x="716.4" y="181.00" font-size="8.8" fill="#000" stroke="#000">Hb_001318_290</text>
<rect x="696.3" y="186.74" width="17.28" height="17.28" fill="#F2F2F2" stroke="#FFFFFF" stroke-width="1.07"/>
<line x1="698.03" x2="711.85" y1="195.68" y2="195.68" stroke="#00BF7D" stroke-width="1.07"/>
<text x="716.4" y="198.31" font-size="8.8" fill="#000" stroke="#000">Hb_001348_210</text>
<rect x="696.3" y="204.02" width="17.28" height="17.28" fill="#F2F2F2" stroke="#FFFFFF" stroke-width="1.07"/>
<line x1="698.03" x2="711.85" y1="212.96" y2="212.96" stroke="#00C1A3" stroke-width="1.07"/>
<text x="716.4" y="215.63" font-size="8.8" fill="#000" stroke="#000">Hb_001369_140</text>
<rect x="696.3" y="221.30" width="17.28" height="17.28" fill="#F2F2F2" stroke="#FFFFFF" stroke-width="1.07"/>
<line x1="698.03" x2="711.85" y1="230.24" y2="230.24" stroke="#00BFC4" stroke-width="1.07"/>
<text x="716.4" y="232.94" font-size="8.8" fill="#000" stroke="#000">Hb_001946_020</text>
<rect x="696.3" y="238.58" width="17.28" height="17.28" fill="#F2F2F2" stroke="#FFFFFF" stroke-width="1.07"/>
<line x1="698.03" x2="711.85" y1="247.52" y2="247.52" stroke="#00BAE0" stroke-width="1.07"/>
<text x="716.4" y="250.26" font-size="8.8" fill="#000" stroke="#000">Hb_002918_130</text>
<rect x="696.3" y="255.86" width="17.28" height="17.28" fill="#F2F2F2" stroke="#FFFFFF" stroke-width="1.07"/>
<line x1="698.03" x2="711.85" y1="264.80" y2="264.80" stroke="#00B0F6" stroke-width="1.07"/>
<text x="716.4" y="267.57" font-size="8.8" fill="#000" stroke="#000">Hb_006788_010</text>
<rect x="696.3" y="273.14" width="17.28" height="17.28" fill="#F2F2F2" stroke="#FFFFFF" stroke-width="1.07"/>
<line x1="698.03" x2="711.85" y1="282.08" y2="282.08" stroke="#35A2FF" stroke-width="1.07"/>
<text x="716.4" y="284.88" font-size="8.8" fill="#000" stroke="#000">Hb_007181_030</text>
<rect x="696.3" y="290.42" width="17.28" height="17.28" fill="#F2F2F2" stroke="#FFFFFF" stroke-width="1.07"/>
<line x1="698.03" x2="711.85" y1="299.36" y2="299.36" stroke="#9590FF" stroke-width="1.07"/>
<text x="716.4" y="302.20" font-size="8.8" fill="#000" stroke="#000">Hb_007181_080</text>
<rect x="696.3" y="307.70" width="17.28" height="17.28" fill="#F2F2F2" stroke="#FFFFFF" stroke-width="1.07"/>
<line x1="698.03" x2="711.85" y1="316.64" y2="316.64" stroke="#C77CFF" stroke-width="1.07"/>
<text x="716.4" y="319.51" font-size="8.8" fill="#000" stroke="#000">Hb_007403_040</text>
<rect x="696.3" y="324.98" width="17.28" height="17.28" fill="#F2F2F2" stroke="#FFFFFF" stroke-width="1.07"/>
<line x1="698.03" x2="711.85" y1="333.92" y2="333.92" stroke="#E76BF3" stroke-width="1.07"/>
<text x="716.4" y="336.83" font-size="8.8" fill="#000" stroke="#000">Hb_007545_140</text>
<rect x="696.3" y="342.26" width="17.28" height="17.28" fill="#F2F2F2" stroke="#FFFFFF" stroke-width="1.07"/>
<line x1="698.03" x2="711.85" y1="351.20" y2="351.20" stroke="#FA62DB" stroke-width="1.07"/>
<text x="716.4" y="354.14" font-size="8.8" fill="#000" stroke="#000">Hb_020178_010</text>
<rect x="696.3" y="359.54" width="17.28" height="17.28" fill="#F2F2F2" stroke="#FFFFFF" stroke-width="1.07"/>
<line x1="698.03" x2="711.85" y1="368.48" y2="368.48" stroke="#FF62BC" stroke-width="1.07"/>
<text x="716.4" y="371.46" font-size="8.8" fill="#000" stroke="#000">Hb_031336_020</text>
<rect x="696.3" y="376.82" width="17.28" height="17.28" fill="#F2F2F2" stroke="#FFFFFF" stroke-width="1.07"/>
<line x1="698.03" x2="711.85" y1="385.76" y2="385.76" stroke="#FF6A98" stroke-width="1.07"/>
<text x="716.4" y="388.78" font-size="8.8" fill="#000" stroke="#000">Hb_080225_010</text>
<text x="695.8" y="415.9" font-size="11" fill="#000" stroke="#000">quant_status</text>
<rect x="696.3" y="420.86" width="17.28" height="17.28" fill="#F2F2F2" stroke="#FFFFFF" stroke-width="1.07"/>
<path d="M703 428h1v1h-1zM703 429h1v1h-1zM703 430h1v1h-1zM704 428h1v1h-1zM704 429h1v1h-1zM704 430h1v1h-1zM705 428h1v1h-1zM705 429h1v1h-1zM705 430h1v1h-1zM706 428h1v1h-1zM706 429h1v1h-1zM706 430h1v1h-1z" fill="#000" shape-rendering="crispEdges"/>
<text x="716.0" y="431.8" font-size="8.8" fill="#000" stroke="#000">OK</text>
</svg></body></html>
